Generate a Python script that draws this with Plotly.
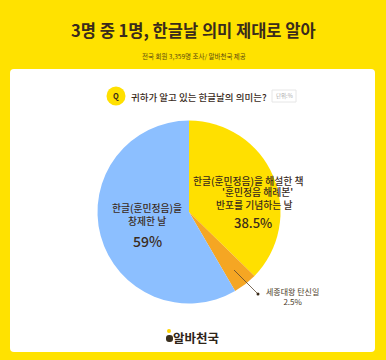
import plotly.graph_objects as go

W, H = 386, 360
FONT = "Noto Sans CJK KR"
DARK = "#3a2b1c"

labels = ["한글(훈민정음)을 해설한 책 '훈민정음 해례본' 반포를 기념하는 날", "세종대왕 탄신일", "한글(훈민정음)을 창제한 날"]
# Slice sizes as drawn in the picture (its wedges do not follow the printed percentages exactly).
drawn_shares = [37.3, 4.3, 58.4]
printed_values = ["38.5%", "2.5%", "59%"]
colors = ["#ffe000", "#f5a623", "#8cbfff"]

title = "3명 중 1명, 한글날 의미 제대로 알아"
subtitle = "전국 회원 3,359명 조사/ 알바천국 제공"
question = "귀하가 알고 있는 한글날의 의미는?"
unit = "단위:%"
brand = "알바천국"


def px(x):
    return x / W


def py(y):
    return 1 - y / H


def rect_path(x0, y0, x1, y1, r):
    pts = [
        f"M{px(x0 + r)},{py(y0)}", f"L{px(x1 - r)},{py(y0)}", f"Q{px(x1)},{py(y0)} {px(x1)},{py(y0 + r)}",
        f"L{px(x1)},{py(y1 - r)}", f"Q{px(x1)},{py(y1)} {px(x1 - r)},{py(y1)}",
        f"L{px(x0 + r)},{py(y1)}", f"Q{px(x0)},{py(y1)} {px(x0)},{py(y1 - r)}",
        f"L{px(x0)},{py(y0 + r)}", f"Q{px(x0)},{py(y0)} {px(x0 + r)},{py(y0)}", "Z",
    ]
    return " ".join(pts)


def circle(x, y, r, fill, layer="above"):
    return dict(type="circle", xref="paper", yref="paper", x0=px(x - r), x1=px(x + r),
                y0=py(y + r), y1=py(y - r), fillcolor=fill, line=dict(width=0), layer=layer)


def text(x, y, s, size, color=DARK, weight=400):
    return dict(xref="paper", yref="paper", x=px(x), y=py(y), text=s,
                showarrow=False, xanchor="center", yanchor="middle",
                font=dict(family=FONT, size=size, color=color, weight=weight), align="center")


cx, cy, r = 189, 212, 91.5

fig = go.Figure(go.Pie(
    labels=labels, values=drawn_shares, sort=False, direction="clockwise", rotation=0,
    marker=dict(colors=colors, line=dict(width=0)), textinfo="none", showlegend=False,
    hoverinfo="label",
    domain=dict(x=[px(cx - r), px(cx + r)], y=[py(cy + r), py(cy - r)]),
))

shapes = [
    dict(type="path", xref="paper", yref="paper", path=rect_path(10, 69, 375, 352, 4),
         fillcolor="#ffffff", line=dict(width=0), layer="below"),
    circle(116, 96, 9.5, "#ffe000"),
    dict(type="rect", xref="paper", yref="paper", x0=px(272), x1=px(296), y0=py(102), y1=py(90),
         fillcolor="#ffffff", line=dict(color="#e6e6e6", width=1)),
    dict(type="line", xref="paper", yref="paper", x0=px(234), y0=py(270), x1=px(258), y1=py(294),
         line=dict(color="#5a4630", width=0.8)),
    circle(258, 294, 1.5, "#3a2a18"),
    circle(169, 331, 2, "#ffd500"),
    dict(type="path", xref="paper", yref="paper",
         path=rect_path(166, 335, 173, 342, 3), fillcolor="#3a3020", line=dict(width=0)),
]

annotations = [
    text(193.5, 30, title, 16.5, DARK, 700),
    text(193.5, 56, subtitle, 6.5, "#5a4a10"),
    text(116, 96, "Q", 7.5, DARK, 700),
    text(199.5, 97, question, 9.5, DARK, 500),
    text(284, 96, unit, 5.5, "#aaaaaa"),
    text(248.5, 181, "한글(훈민정음)을 해설한 책", 9.8, DARK, 500),
    text(257, 192, "'훈민정음 해례본'", 9.8, DARK, 500),
    text(254, 205, "반포를 기념하는 날", 9.8, DARK, 500),
    text(253, 222, printed_values[0], 13, DARK, 500),
    text(147, 208, "한글(훈민정음)을", 9.8, DARK, 500),
    text(147, 221, "창제한 날", 9.8, DARK, 500),
    text(147, 241, printed_values[2], 14, DARK, 500),
    text(292, 296.5, f"세종대왕 탄신일<br>{printed_values[1]}", 8, "#4a3a28"),
    text(196, 337, brand, 12.5, "#2e2418", 700),
]

fig.update_layout(
    width=W, height=H, autosize=False,
    margin=dict(l=0, r=0, t=0, b=0),
    paper_bgcolor="#ffe200", plot_bgcolor="#ffe200",
    font=dict(family=FONT),
    shapes=shapes, annotations=annotations,
)
fig.write_html("out.html", config=dict(displayModeBar=False),
               post_script="document.body.style.margin='0';document.body.style.overflow='hidden';")
